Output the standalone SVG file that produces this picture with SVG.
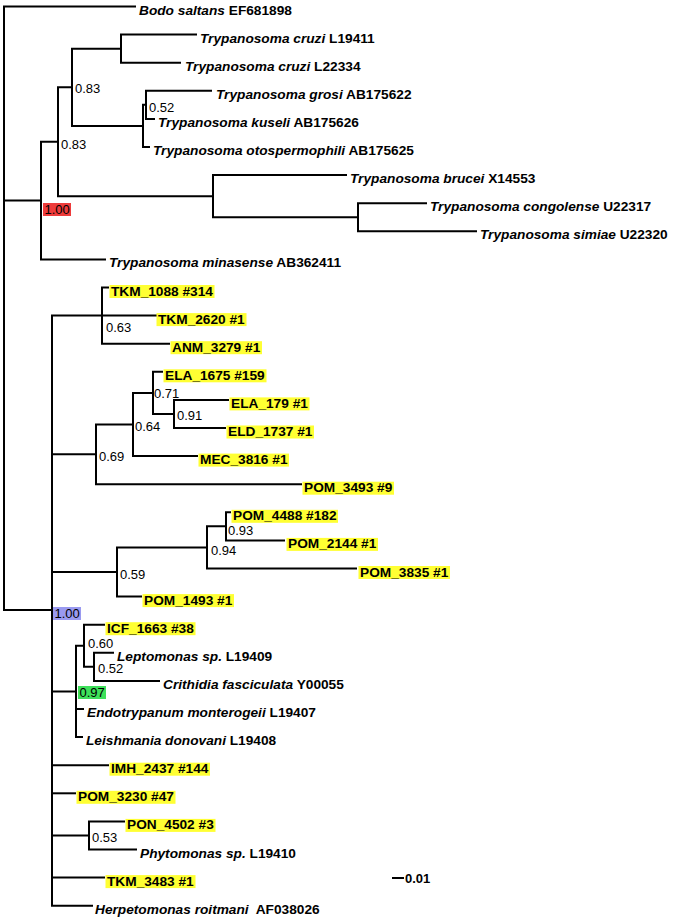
<svg xmlns="http://www.w3.org/2000/svg" width="674" height="919" viewBox="0 0 674 919">
<style>
.t{font-family:"Liberation Sans",Arial,Helvetica,sans-serif;font-size:13.7px;font-weight:bold;fill:#000}
.i{font-style:italic}
.s{font-family:"Liberation Sans",Arial,Helvetica,sans-serif;font-size:13px;fill:#000}
.hl{fill:#ffff33}
.br{fill:none;stroke:#000;stroke-width:2;stroke-linejoin:miter;stroke-linecap:butt}
</style>
<rect width="674" height="919" fill="#fff"/>
<g id="connectors" class="br">
<path d="M136,6.5 H4 V610 H52"/>
<path d="M4,200.6 H41"/>
<path d="M58,141.75 H41 V259.4 H106"/>
<path d="M72,87.3 H58 V196.2 H213"/>
<path d="M197,34.6 H121 V62.7 H181"/>
<path d="M121,48.65 H72 V125.9 H143"/>
<path d="M146,104.85 H143 V147 H150"/>
<path d="M212,90.8 H146 V118.9 H155"/>
<path d="M347,175.1 H213 V217.25 H358"/>
<path d="M427,203.2 H358 V231.3 H477"/>
<path d="M157,315.6 H52 V905.7 H93"/>
<path d="M52,454.35 H96"/>
<path d="M52,572 H117"/>
<path d="M52,691.5 H76"/>
<path d="M52,765.2 H109"/>
<path d="M52,793.3 H76"/>
<path d="M52,835.45 H89"/>
<path d="M52,877.6 H105"/>
<path d="M109,287.5 H102 V343.7 H170"/>
<path d="M133,424.5 H96 V484.2 H302"/>
<path d="M153,392.9 H133 V456.1 H198"/>
<path d="M163,371.8 H153 V413.95 H174"/>
<path d="M229,399.9 H174 V428 H226"/>
<path d="M207,547.4 H117 V596.6 H142"/>
<path d="M226,526.35 H207 V568.5 H357"/>
<path d="M231,512.3 H226 V540.4 H285"/>
<path d="M84,645.8 H76 V737.1 H83"/>
<path d="M76,709 H84"/>
<path d="M105,624.7 H84 V666.85 H94"/>
<path d="M114,652.8 H94 V680.9 H160"/>
<path d="M125,821.4 H89 V849.5 H137"/>
</g>
<g id="scale-bar">
<path class="br" d="M392,878 H404"/>
<text class="s" style="font-weight:bold" x="405" y="882.6">0.01</text>
</g>
<g id="leaf-bodo"><text class="t" x="139" y="14.5"><tspan class="i">Bodo saltans</tspan> EF681898</text></g>
<g id="leaf-cruzi1"><text class="t" x="200" y="42.6"><tspan class="i">Trypanosoma cruzi</tspan> L19411</text></g>
<g id="leaf-cruzi2"><text class="t" x="185" y="70.7"><tspan class="i">Trypanosoma cruzi</tspan> L22334</text></g>
<g id="leaf-grosi"><text class="t" x="216" y="98.8"><tspan class="i">Trypanosoma grosi</tspan> AB175622</text></g>
<g id="leaf-kuseli"><text class="t" x="158" y="126.9"><tspan class="i">Trypanosoma kuseli</tspan> AB175626</text></g>
<g id="leaf-otospermophili"><text class="t" x="153" y="155"><tspan class="i">Trypanosoma otospermophili</tspan> AB175625</text></g>
<g id="leaf-brucei"><text class="t" x="350" y="183.1"><tspan class="i">Trypanosoma brucei</tspan> X14553</text></g>
<g id="leaf-congolense"><text class="t" x="430" y="211.2"><tspan class="i">Trypanosoma congolense</tspan> U22317</text></g>
<g id="leaf-simiae"><text class="t" x="480" y="239.3"><tspan class="i">Trypanosoma simiae</tspan> U22320</text></g>
<g id="leaf-minasense"><text class="t" x="109" y="267.4"><tspan class="i">Trypanosoma minasense</tspan> AB362411</text></g>
<g id="leaf-tkm1088"><rect class="hl" x="109.5" y="285" width="105" height="13"/><text class="t" x="111" y="295.5">TKM_1088 #314</text></g>
<g id="leaf-tkm2620"><rect class="hl" x="156.5" y="313.1" width="90" height="13"/><text class="t" x="158" y="323.6">TKM_2620 #1</text></g>
<g id="leaf-anm3279"><rect class="hl" x="170.5" y="341.2" width="91.5" height="13"/><text class="t" x="172" y="351.7">ANM_3279 #1</text></g>
<g id="leaf-ela1675"><rect class="hl" x="163.5" y="369.3" width="103" height="13"/><text class="t" x="165" y="379.8">ELA_1675 #159</text></g>
<g id="leaf-ela179"><rect class="hl" x="229.5" y="397.4" width="80" height="13"/><text class="t" x="231" y="407.9">ELA_179 #1</text></g>
<g id="leaf-eld1737"><rect class="hl" x="226.5" y="425.5" width="87.5" height="13"/><text class="t" x="228" y="436">ELD_1737 #1</text></g>
<g id="leaf-mec3816"><rect class="hl" x="198.5" y="453.6" width="90.5" height="13"/><text class="t" x="200" y="464.1">MEC_3816 #1</text></g>
<g id="leaf-pom3493"><rect class="hl" x="302.5" y="481.7" width="91.5" height="13"/><text class="t" x="304" y="492.2">POM_3493 #9</text></g>
<g id="leaf-pom4488"><rect class="hl" x="231.5" y="509.8" width="106.5" height="13"/><text class="t" x="233" y="520.3">POM_4488 #182</text></g>
<g id="leaf-pom2144"><rect class="hl" x="286.5" y="537.9" width="91.5" height="13"/><text class="t" x="288" y="548.4">POM_2144 #1</text></g>
<g id="leaf-pom3835"><rect class="hl" x="358.5" y="566" width="91.5" height="13"/><text class="t" x="360" y="576.5">POM_3835 #1</text></g>
<g id="leaf-pom1493"><rect class="hl" x="142.5" y="594.1" width="91.5" height="13"/><text class="t" x="144" y="604.6">POM_1493 #1</text></g>
<g id="leaf-icf1663"><rect class="hl" x="105.5" y="622.2" width="90" height="13"/><text class="t" x="107" y="632.7">ICF_1663 #38</text></g>
<g id="leaf-leptomonas"><text class="t" x="117" y="660.8"><tspan class="i">Leptomonas sp.</tspan> L19409</text></g>
<g id="leaf-crithidia"><text class="t" x="163" y="688.9"><tspan class="i">Crithidia fasciculata</tspan> Y00055</text></g>
<g id="leaf-endotrypanum"><text class="t" x="87" y="717"><tspan class="i">Endotrypanum monterogeii</tspan> L19407</text></g>
<g id="leaf-leishmania"><text class="t" x="86" y="745.1"><tspan class="i">Leishmania donovani</tspan> L19408</text></g>
<g id="leaf-imh2437"><rect class="hl" x="109.5" y="762.7" width="100.5" height="13"/><text class="t" x="111" y="773.2">IMH_2437 #144</text></g>
<g id="leaf-pom3230"><rect class="hl" x="76.5" y="790.8" width="99" height="13"/><text class="t" x="78" y="801.3">POM_3230 #47</text></g>
<g id="leaf-pon4502"><rect class="hl" x="125.5" y="818.9" width="90" height="13"/><text class="t" x="127" y="829.4">PON_4502 #3</text></g>
<g id="leaf-phytomonas"><text class="t" x="140" y="857.5"><tspan class="i">Phytomonas sp.</tspan> L19410</text></g>
<g id="leaf-tkm3483"><rect class="hl" x="105.5" y="875.1" width="90" height="13"/><text class="t" x="107" y="885.6">TKM_3483 #1</text></g>
<g id="leaf-herpetomonas"><text class="t" x="95" y="913.7" xml:space="preserve"><tspan class="i">Herpetomonas roitmani</tspan>  AF038026</text></g>
<g id="node-D"><text class="s" x="75" y="92.5">0.83</text></g>
<g id="node-C"><text class="s" x="61" y="148.6">0.83</text></g>
<g id="node-H"><text class="s" x="149" y="111.6">0.52</text></g>
<g id="node-A"><rect x="43" y="203" width="28" height="13" fill="#ee3b3b"/><text class="s" x="44.5" y="213.6">1.00</text></g>
<g id="node-J"><text class="s" x="106" y="331.6">0.63</text></g>
<g id="node-R"><text class="s" x="154" y="397.6">0.71</text></g>
<g id="node-S"><text class="s" x="177" y="420.3">0.91</text></g>
<g id="node-Q"><text class="s" x="135" y="431.3">0.64</text></g>
<g id="node-K"><text class="s" x="99" y="460.6">0.69</text></g>
<g id="node-U"><text class="s" x="228" y="534.5">0.93</text></g>
<g id="node-T"><text class="s" x="211" y="554.6">0.94</text></g>
<g id="node-M"><text class="s" x="120" y="579">0.59</text></g>
<g id="node-B"><rect x="53" y="607" width="28" height="13" fill="#9a9af0"/><text class="s" x="54.5" y="617.6">1.00</text></g>
<g id="node-V"><text class="s" x="88" y="648">0.60</text></g>
<g id="node-W"><text class="s" x="98" y="673">0.52</text></g>
<g id="node-N"><rect x="78" y="686" width="28" height="13" fill="#3ee05a"/><text class="s" x="79.5" y="696.6">0.97</text></g>
<g id="node-P"><text class="s" x="92" y="842.3">0.53</text></g>
</svg>
